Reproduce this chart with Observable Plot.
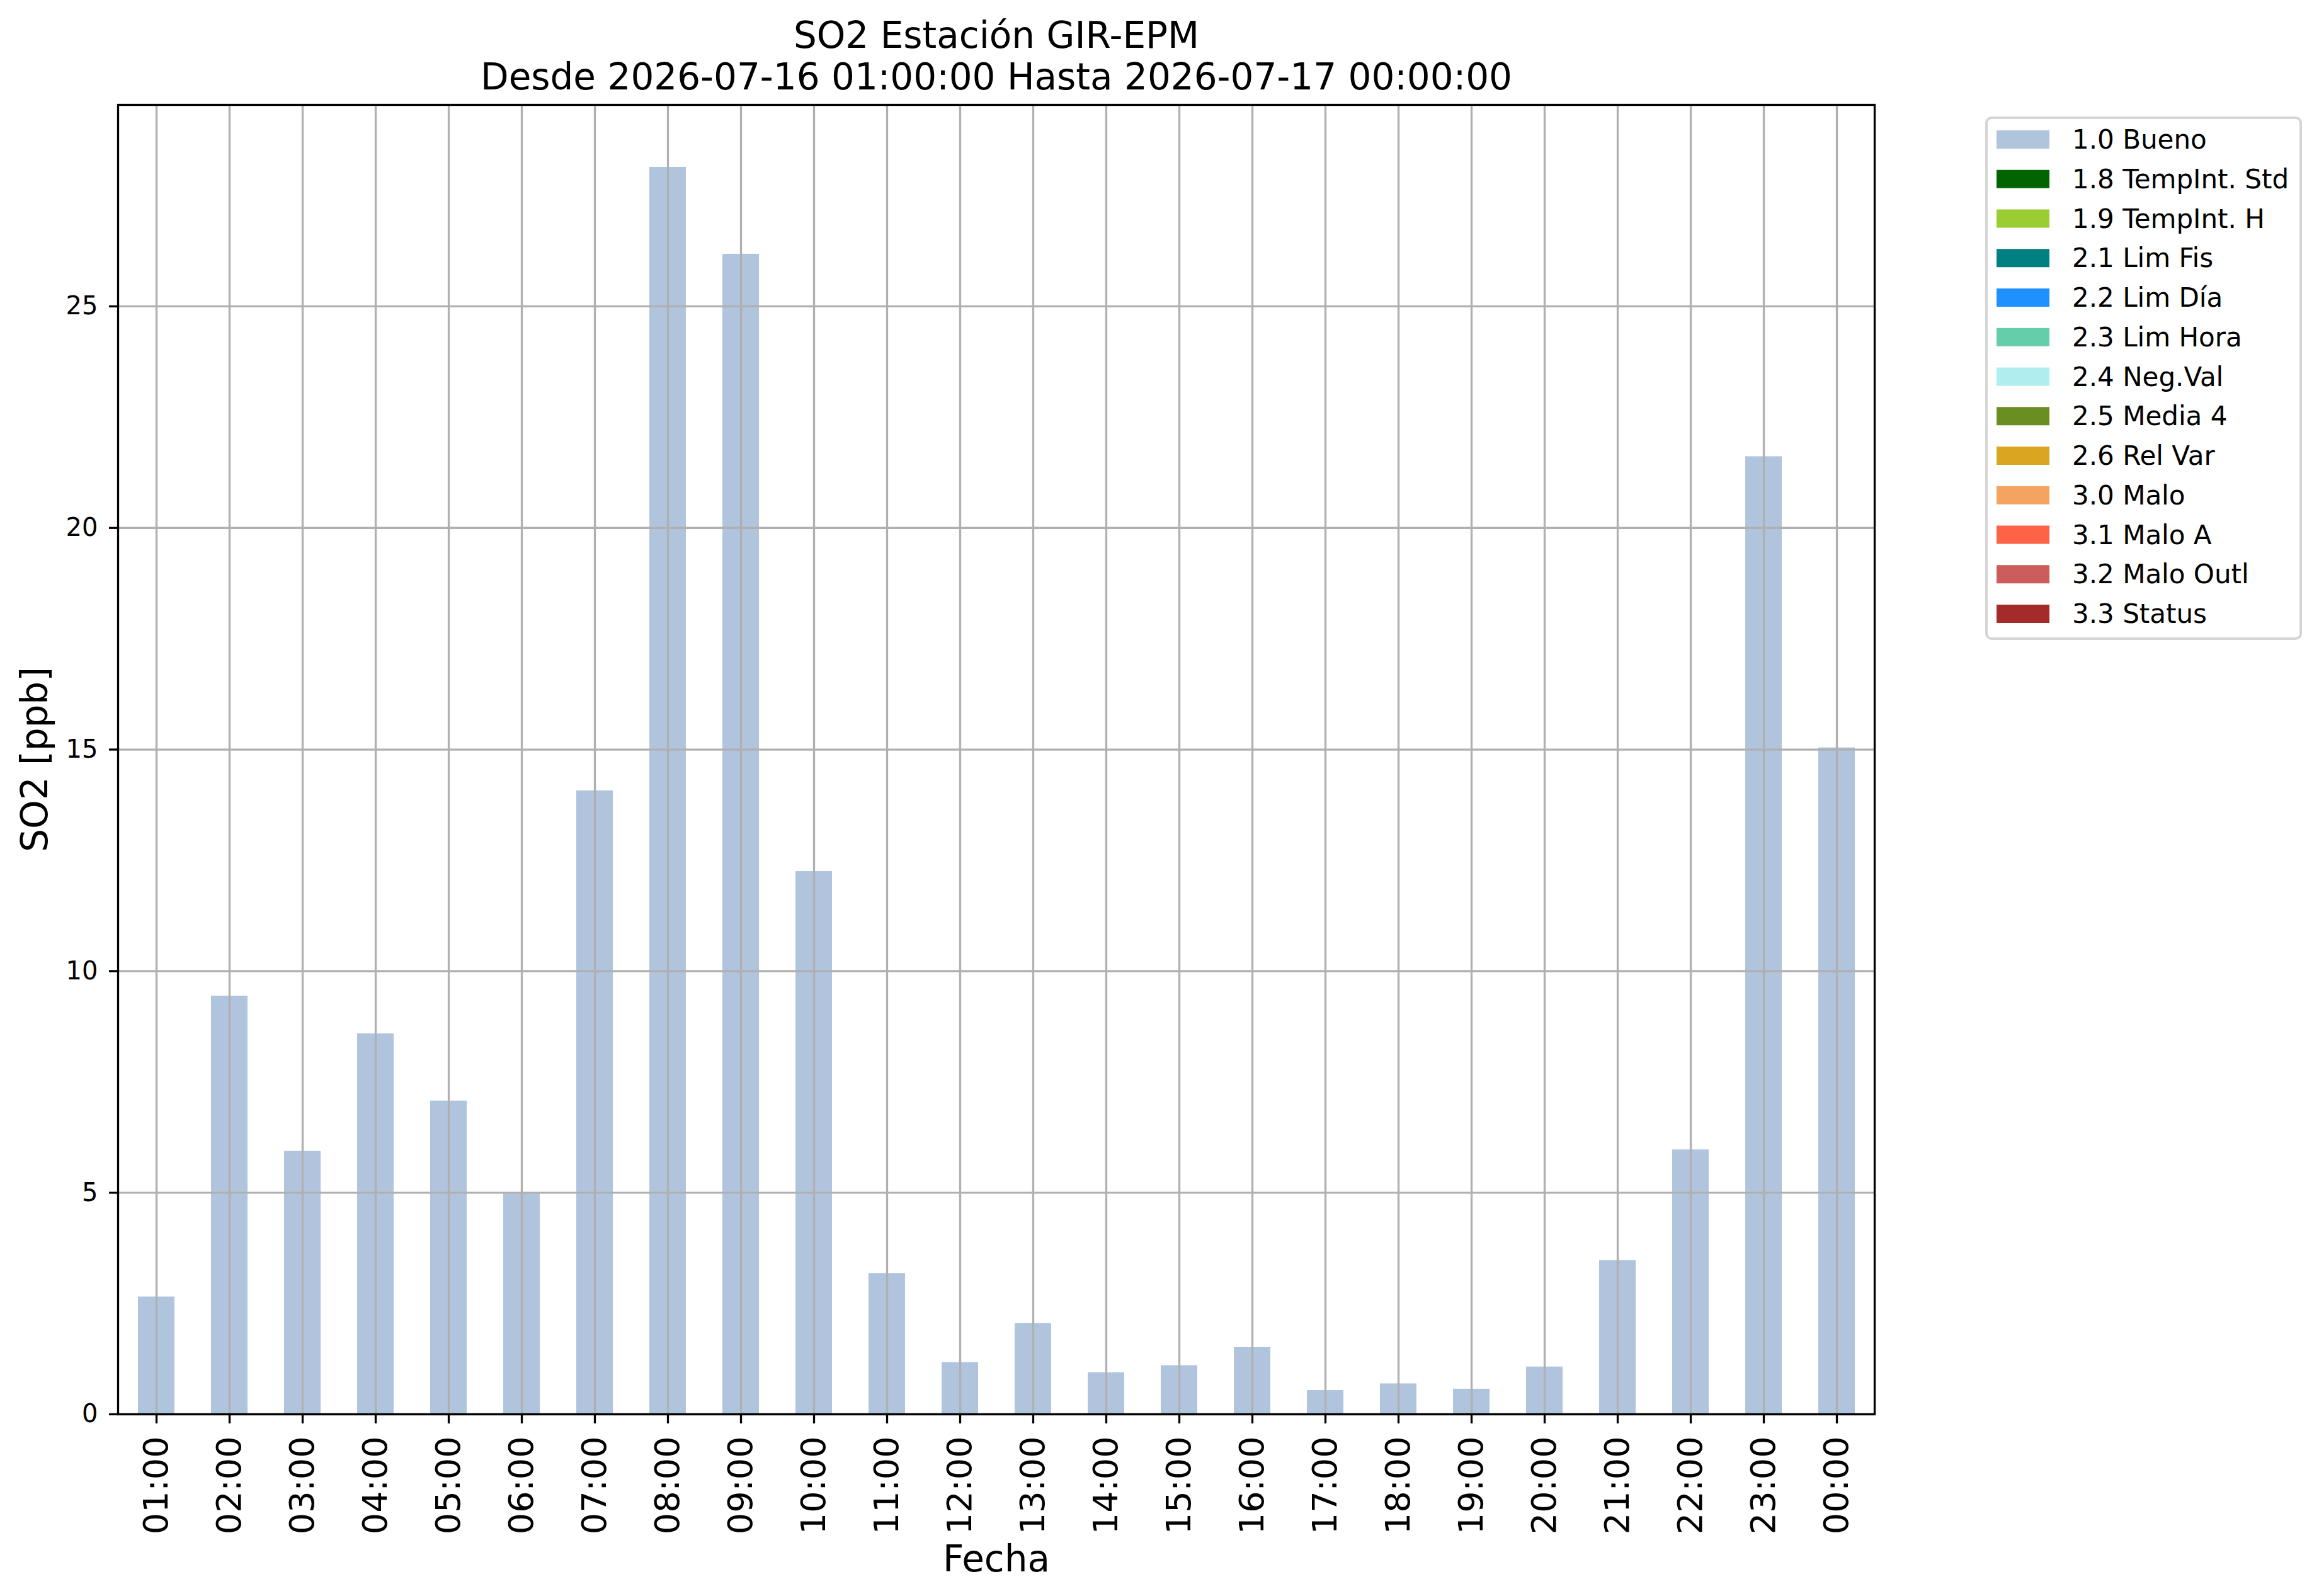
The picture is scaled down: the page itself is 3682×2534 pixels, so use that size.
<!DOCTYPE html>
<html>
<head>
<meta charset="utf-8">
<script src="https://cdn.jsdelivr.net/npm/d3@7"></script>
<script src="https://cdn.jsdelivr.net/npm/@observablehq/plot@0.6"></script>
<style>
  html, body { margin: 0; padding: 0; background: #fff; }
  #chart svg { display: block; }
</style>
</head>
<body>
<div id="chart"></div>
<script>
// ---- data ----
const hours = ["01:00","02:00","03:00","04:00","05:00","06:00","07:00","08:00","09:00","10:00","11:00","12:00",
               "13:00","14:00","15:00","16:00","17:00","18:00","19:00","20:00","21:00","22:00","23:00","00:00"];
const so2 = [2.65, 9.44, 5.94, 8.59, 7.07, 4.98, 14.07, 28.14, 26.18, 12.25, 3.18, 1.17,
             2.05, 0.94, 1.10, 1.51, 0.54, 0.69, 0.57, 1.07, 3.47, 5.97, 21.61, 15.04];
const hourFlags = ["1.0 Bueno","1.0 Bueno","1.0 Bueno","1.0 Bueno","1.0 Bueno","1.0 Bueno",
                   "1.0 Bueno","1.0 Bueno","1.0 Bueno","1.0 Bueno","1.0 Bueno","1.0 Bueno",
                   "1.0 Bueno","1.0 Bueno","1.0 Bueno","1.0 Bueno","1.0 Bueno","1.0 Bueno",
                   "1.0 Bueno","1.0 Bueno","1.0 Bueno","1.0 Bueno","1.0 Bueno","1.0 Bueno"];
const flagLabels = ["1.0 Bueno","1.8 TempInt. Std","1.9 TempInt. H","2.1 Lim Fis","2.2 Lim Día","2.3 Lim Hora",
                    "2.4 Neg.Val","2.5 Media 4","2.6 Rel Var","3.0 Malo","3.1 Malo A","3.2 Malo Outl","3.3 Status"];
const flagColors = ["#b0c4de","#006400","#9acd32","#008080","#1e90ff","#66cdaa",
                    "#afeeee","#6b8e23","#daa520","#f4a460","#ff6347","#cd5c5c","#a52a2a"];
const yTicks = [0, 5, 10, 15, 20, 25];
const titleLine1 = "SO2 Estación GIR-EPM";
const titleLine2 = "Desde 2026-07-16 01:00:00 Hasta 2026-07-17 00:00:00";
const xLabel = "Fecha";
const yLabel = "SO2 [ppb]";

const rows = hours.map((h, i) => ({hour: h, value: so2[i], flag: hourFlags[i]}));

// ---- layout ----
const W = 3682, H = 2534;
const mL = 187, mR = W - 2976, mT = 166, mB = H - 2245;
const LW = 3.3;
const FONT = "DejaVu Sans";

const chart = Plot.plot({
  width: W, height: H,
  marginLeft: mL, marginRight: mR, marginTop: mT, marginBottom: mB,
  style: {fontFamily: FONT, background: "#fff", color: "#000", overflow: "visible"},
  x: {type: "band", domain: hours, paddingInner: 0.5, paddingOuter: 0.25, align: 0.5},
  y: {domain: [0, d3.max(so2) * 1.05]},
  color: {type: "ordinal", domain: flagLabels, range: flagColors},
  marks: [
    Plot.barY(rows, {x: "hour", y: "value", fill: "flag"}),
    Plot.gridX(hours, {stroke: "#b0b0b0", strokeOpacity: 1, strokeWidth: LW}),
    Plot.gridY(yTicks, {stroke: "#b0b0b0", strokeOpacity: 1, strokeWidth: LW}),
    Plot.axisX(hours, {tickRotate: -90, fontSize: 54, tickSize: 15, tickPadding: 20,
                       strokeWidth: LW, label: null}),
    Plot.axisY(yTicks, {fontSize: 40, tickSize: 14, tickPadding: 18,
                        strokeWidth: LW, label: null, tickFormat: d => String(d)}),
    Plot.frame({stroke: "#000", strokeWidth: LW}),
    Plot.text([titleLine1], {frameAnchor: "top", dy: 75 - mT, lineAnchor: "bottom",
                             textAnchor: "middle", fontSize: 58, fill: "#000"}),
    Plot.text([titleLine2], {frameAnchor: "top", dy: 141.5 - mT, lineAnchor: "bottom",
                             textAnchor: "middle", fontSize: 58, fill: "#000"}),
    Plot.text([xLabel], {frameAnchor: "bottom", dy: 2494 - 2245, lineAnchor: "bottom",
                         textAnchor: "middle", fontSize: 58, fill: "#000"}),
    Plot.text([yLabel], {frameAnchor: "left", dx: 56.4 - mL, rotate: -90, lineAnchor: "middle",
                         textAnchor: "middle", fontSize: 58, fill: "#000"})
  ]
});

// ---- legend (drawn into the same SVG) ----
const color = chart.scale("color");
const svg = d3.select(chart);
const lg = svg.append("g")
  .attr("font-family", FONT).attr("font-size", 42).attr("text-anchor", "start");
const box = {x: 3154, y: 187, w: 499, h: 827};
lg.append("rect")
  .attr("x", box.x).attr("y", box.y).attr("width", box.w).attr("height", box.h)
  .attr("rx", 8).attr("ry", 8)
  .attr("fill", "#fff").attr("fill-opacity", 0.8)
  .attr("stroke", "#d5d5d5").attr("stroke-width", 4);
const rowStep = 62.75;
const entry = lg.selectAll("g.entry").data(color.domain).join("g")
  .attr("transform", (d, i) => `translate(0,${207 + i * rowStep})`);
entry.append("rect")
  .attr("x", 3170).attr("y", 0).attr("width", 84).attr("height", 29)
  .attr("fill", (d, i) => color.range[i]);
entry.append("text")
  .attr("x", 3290).attr("y", 29)
  .attr("text-anchor", "start")
  .attr("fill", "#000")
  .text(d => d);

document.getElementById("chart").appendChild(chart);
</script>
</body>
</html>
